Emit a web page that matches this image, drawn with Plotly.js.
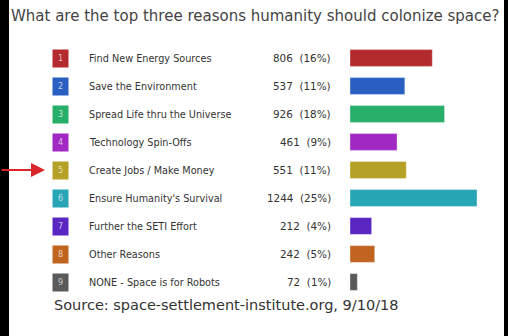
<!DOCTYPE html>
<html>
<head>
<meta charset="utf-8">
<script src="https://cdn.plot.ly/plotly-3.0.1.min.js"></script>
<style>html,body{margin:0;padding:0;background:#fff;}#chart{width:508px;height:336px;}</style>
</head>
<body>
<div id="chart"></div>
<script>
const reasons = [
  "Find New Energy Sources",
  "Save the Environment",
  "Spread Life thru the Universe",
  "Technology Spin-Offs",
  "Create Jobs / Make Money",
  "Ensure Humanity's Survival",
  "Further the SETI Effort",
  "Other Reasons",
  "NONE - Space is for Robots"
];
const ranks = ["1","2","3","4","5","6","7","8","9"];
const votes = [806, 537, 926, 461, 551, 1244, 212, 242, 72];
const percents = [16, 11, 18, 9, 11, 25, 4, 5, 1];
const colors = ["#b42b2e", "#2a5fc2", "#27ae68", "#a128c2", "#b4a125", "#28a6b6", "#5a26c2", "#c0641f", "#5a5a5a"];
const highlighted = "Create Jobs / Make Money";

const W = 508, H = 336;
const M = { l: 0, r: 0, t: 44, b: 40 };
const PH = H - M.t - M.b;
const px = v => v / W;
const py = v => (H - M.b - v) / PH;

const trace = {
  type: "bar",
  orientation: "h",
  x: votes,
  y: reasons,
  marker: { color: colors, line: { color: "rgba(255,255,255,0.35)", width: 1 } },
  hoverinfo: "skip"
};

const annotations = [];
reasons.forEach((r, i) => {
  annotations.push({
    xref: "paper", yref: "y", x: px(60.5), y: r, xanchor: "center", yanchor: "middle",
    text: ranks[i], showarrow: false, width: 15, height: 17, bgcolor: colors[i], borderpad: 0,
    font: { family: "DejaVu Sans", size: 8, color: "rgba(255,255,255,0.7)" }
  });
  annotations.push({
    xref: "paper", yref: "y", x: px(87), y: r, xanchor: "left", yanchor: "middle",
    text: r, showarrow: false,
    font: { family: "DejaVu Sans", size: 9.7, color: "#333" }
  });
  annotations.push({
    xref: "paper", yref: "y", x: px(333), y: r, xanchor: "right", yanchor: "middle",
    text: votes[i] + "&nbsp;&nbsp;(" + percents[i] + "%)", showarrow: false,
    font: { family: "DejaVu Sans", size: 10.4, color: "#333" }
  });
});
annotations.push({
  xref: "paper", yref: "y", x: px(45), y: highlighted, text: "", showarrow: true,
  ax: -45, ay: 0,
  arrowhead: 2, arrowsize: 1.4, arrowwidth: 2, arrowcolor: "#d8262b"
});
annotations.push({
  xref: "paper", yref: "paper", x: px(52), y: py(305), xanchor: "left", yanchor: "middle",
  text: "Source: space-settlement-institute.org, 9/10/18", showarrow: false,
  font: { family: "DejaVu Sans", size: 14.5, color: "#333" }
});

const layout = {
  width: W, height: H,
  margin: { l: M.l, r: M.r, t: M.t, b: M.b, pad: 0 },
  paper_bgcolor: "#fff", plot_bgcolor: "#fff",
  title: { text: "What are the top three reasons humanity should colonize space?",
    x: px(11), xanchor: "left", y: 1 - 16 / H, yanchor: "middle",
    font: { family: "DejaVu Sans", size: 15, color: "#444" } },
  xaxis: { domain: [px(350), px(477)], range: [0, Math.max(...votes)], visible: false, fixedrange: true },
  yaxis: { type: "category", autorange: "reversed", visible: false, fixedrange: true },
  bargap: 0.4,
  showlegend: false,
  annotations: annotations,
  shapes: [
    { type: "rect", xref: "paper", yref: "paper", x0: 0, x1: px(9), y0: py(H), y1: py(0), fillcolor: "#000", line: { width: 0 } },
    { type: "rect", xref: "paper", yref: "paper", x0: px(504), x1: 1, y0: py(H), y1: py(0), fillcolor: "#000", line: { width: 0 } }
  ]
};

Plotly.newPlot("chart", [trace], layout, { displayModeBar: false, staticPlot: true });
</script>
</body>
</html>
